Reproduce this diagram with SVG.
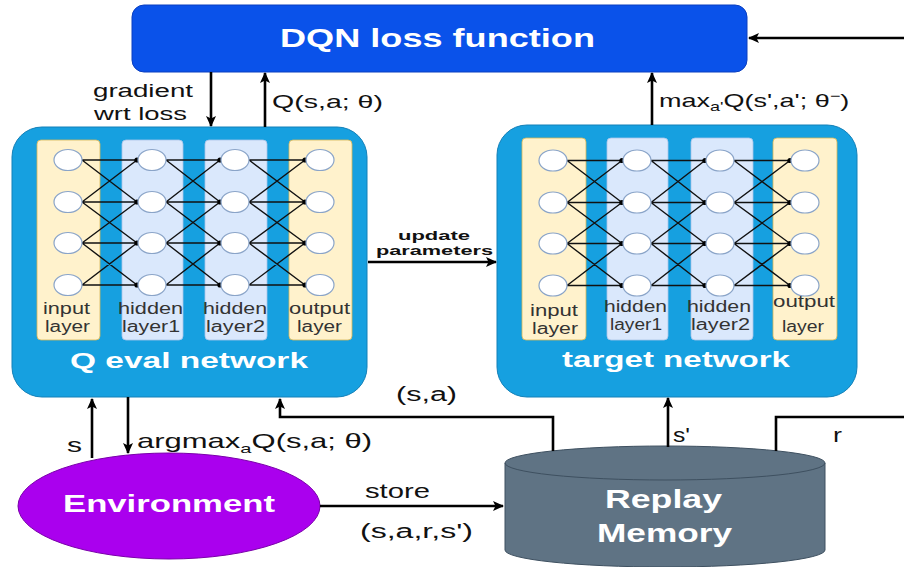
<svg xmlns="http://www.w3.org/2000/svg" xmlns:xlink="http://www.w3.org/1999/xlink" width="904" height="567" viewBox="0 0 904 567">
<style>
text{font-family:"Liberation Sans",Arial,Helvetica,sans-serif}
.lbl{font-size:20px;fill:#111}
.sm{font-size:18px;fill:#111}
.lay{font-size:16px;fill:#333}
.wb{font-weight:bold;fill:#fff}
.conn{fill:none;stroke:#000;stroke-width:2.6}
.colY{fill:#fff2cc;stroke:#d6b656;stroke-width:0.8}
.colB{fill:#dae8fc;stroke:#a9c4e8;stroke-width:0.8}
.nd{fill:#fff;stroke:#8aa4c8;stroke-width:1.2}
.mesh{fill:none;stroke:#111;stroke-width:1.4}
</style>
<defs>
<marker id="arr" markerUnits="userSpaceOnUse" markerWidth="14" markerHeight="12" refX="10" refY="5" orient="auto">
<path d="M0,0 L11,5 L0,10 L2.5,5 Z" fill="#000"/>
</marker>
<g id="net">
<path class="mesh" d="M82,160L137,160M82,160L137,202M82,202L137,160M82,202L137,202M82,202L137,243M82,243L137,202M82,243L137,243M82,243L137,285M82,285L137,243M82,285L137,285
M166,160L220,160M166,160L220,202M166,202L220,160M166,202L220,202M166,202L220,243M166,243L220,202M166,243L220,243M166,243L220,285M166,285L220,243M166,285L220,285
M249,160L305,160M249,160L305,202M249,202L305,160M249,202L305,202M249,202L305,243M249,243L305,202M249,243L305,243M249,243L305,285M249,285L305,243M249,285L305,285"/>
<g fill="#000">
<circle cx="137" cy="160" r="2.6"/><circle cx="137" cy="202" r="2.6"/><circle cx="137" cy="243" r="2.6"/><circle cx="137" cy="285" r="2.6"/>
<circle cx="220" cy="160" r="2.6"/><circle cx="220" cy="202" r="2.6"/><circle cx="220" cy="243" r="2.6"/><circle cx="220" cy="285" r="2.6"/>
<circle cx="305" cy="160" r="2.6"/><circle cx="305" cy="202" r="2.6"/><circle cx="305" cy="243" r="2.6"/><circle cx="305" cy="285" r="2.6"/>
</g>
<g class="nd">
<ellipse cx="68" cy="160" rx="14" ry="10.5"/><ellipse cx="68" cy="202" rx="14" ry="10.5"/><ellipse cx="68" cy="243" rx="14" ry="10.5"/><ellipse cx="68" cy="285" rx="14" ry="10.5"/>
<ellipse cx="152" cy="160" rx="14" ry="10.5"/><ellipse cx="152" cy="202" rx="14" ry="10.5"/><ellipse cx="152" cy="243" rx="14" ry="10.5"/><ellipse cx="152" cy="285" rx="14" ry="10.5"/>
<ellipse cx="235" cy="160" rx="14" ry="10.5"/><ellipse cx="235" cy="202" rx="14" ry="10.5"/><ellipse cx="235" cy="243" rx="14" ry="10.5"/><ellipse cx="235" cy="285" rx="14" ry="10.5"/>
<ellipse cx="320" cy="160" rx="14" ry="10.5"/><ellipse cx="320" cy="202" rx="14" ry="10.5"/><ellipse cx="320" cy="243" rx="14" ry="10.5"/><ellipse cx="320" cy="285" rx="14" ry="10.5"/>
</g>
</g>
</defs>
<rect width="904" height="567" fill="#fff"/>

<g id="dqn-loss">
<rect x="132" y="5" width="615" height="67" rx="12" fill="#0a52ea" stroke="#0a3fc0" stroke-width="1"/>
<text x="280" y="47" class="wb" font-size="26" textLength="315" lengthAdjust="spacingAndGlyphs">DQN loss function</text>
</g>

<g id="q-eval-network">
<rect x="12" y="127" width="355" height="270" rx="30" fill="#16a0e0" stroke="#1380b8" stroke-width="1"/>
<rect class="colY" x="37" y="140" width="63" height="200" rx="4"/>
<rect class="colB" x="122" y="140" width="61" height="200" rx="4"/>
<rect class="colB" x="205" y="140" width="62" height="200" rx="4"/>
<rect class="colY" x="289" y="140" width="63" height="200" rx="4"/>
<use xlink:href="#net"/>
<text class="lay" x="43" y="314" textLength="47" lengthAdjust="spacingAndGlyphs">input</text>
<text class="lay" x="45" y="332" textLength="45" lengthAdjust="spacingAndGlyphs">layer</text>
<text class="lay" x="118" y="314" textLength="65" lengthAdjust="spacingAndGlyphs">hidden</text>
<text class="lay" x="122" y="332" textLength="58" lengthAdjust="spacingAndGlyphs">layer1</text>
<text class="lay" x="203" y="314" textLength="64" lengthAdjust="spacingAndGlyphs">hidden</text>
<text class="lay" x="206" y="332" textLength="59" lengthAdjust="spacingAndGlyphs">layer2</text>
<text class="lay" x="289" y="314" textLength="61" lengthAdjust="spacingAndGlyphs">output</text>
<text class="lay" x="297" y="332" textLength="45" lengthAdjust="spacingAndGlyphs">layer</text>
<text x="70" y="368" class="wb" font-size="22" textLength="238" lengthAdjust="spacingAndGlyphs">Q eval network</text>
</g>

<g id="target-network">
<rect x="497" y="125" width="360" height="272" rx="30" fill="#16a0e0" stroke="#1380b8" stroke-width="1"/>
<rect class="colY" x="522" y="138" width="64" height="202" rx="4"/>
<rect class="colB" x="607" y="138" width="61" height="202" rx="4"/>
<rect class="colB" x="691" y="138" width="62" height="202" rx="4"/>
<rect class="colY" x="773" y="138" width="64" height="202" rx="4"/>
<use xlink:href="#net" transform="translate(485,0.5)"/>
<text class="lay" x="530" y="316" textLength="48" lengthAdjust="spacingAndGlyphs">input</text>
<text class="lay" x="532" y="334" textLength="46" lengthAdjust="spacingAndGlyphs">layer</text>
<text class="lay" x="604" y="312" textLength="63" lengthAdjust="spacingAndGlyphs">hidden</text>
<text class="lay" x="610" y="330" textLength="52" lengthAdjust="spacingAndGlyphs">layer1</text>
<text class="lay" x="687" y="312" textLength="64" lengthAdjust="spacingAndGlyphs">hidden</text>
<text class="lay" x="691" y="330" textLength="59" lengthAdjust="spacingAndGlyphs">layer2</text>
<text class="lay" x="773" y="307" textLength="62" lengthAdjust="spacingAndGlyphs">output</text>
<text class="lay" x="782" y="332" textLength="42" lengthAdjust="spacingAndGlyphs">layer</text>
<text x="562" y="367" class="wb" font-size="22" textLength="228" lengthAdjust="spacingAndGlyphs">target network</text>
</g>

<g id="environment">
<ellipse cx="169" cy="506" rx="151" ry="53" fill="#aa00ee" stroke="#7a00aa" stroke-width="1"/>
<text x="63" y="512" class="wb" font-size="24" textLength="212" lengthAdjust="spacingAndGlyphs">Environment</text>
</g>

<g id="replay-memory">
<path d="M505,463 A160,17 0 0 1 825,463 L825,550 A160,17 0 0 1 505,550 Z" fill="#5f7384" stroke="#3e5060" stroke-width="1"/>
<path d="M505,463 A160,17 0 0 0 825,463" fill="none" stroke="#3e5060" stroke-width="1"/>
<text x="605" y="508" class="wb" font-size="26" textLength="117" lengthAdjust="spacingAndGlyphs">Replay</text>
<text x="597" y="542" class="wb" font-size="26" textLength="135" lengthAdjust="spacingAndGlyphs">Memory</text>
</g>

<g id="connectors">
<path class="conn" d="M904,38 L749,38" marker-end="url(#arr)"/>
<path class="conn" d="M211,72 L211,126" marker-end="url(#arr)"/>
<path class="conn" d="M265,127 L265,73" marker-end="url(#arr)"/>
<path class="conn" d="M652,125 L652,73" marker-end="url(#arr)"/>
<path class="conn" d="M368,262 L496,262" marker-end="url(#arr)"/>
<path class="conn" d="M92,458 L92,399" marker-end="url(#arr)"/>
<path class="conn" d="M128,397 L128,453" marker-end="url(#arr)"/>
<path class="conn" d="M553,451 L553,417 L280,417 L280,399" marker-end="url(#arr)"/>
<path class="conn" d="M668,447 L668,398" marker-end="url(#arr)"/>
<path class="conn" d="M776,451 L776,417 L904,417"/>
<path class="conn" d="M320,506 L503,506" marker-end="url(#arr)"/>

<text class="sm" x="93" y="97" textLength="100" lengthAdjust="spacingAndGlyphs">gradient</text>
<text class="sm" x="94" y="120" textLength="93" lengthAdjust="spacingAndGlyphs">wrt loss</text>
<text class="sm" x="272" y="108" textLength="111" lengthAdjust="spacingAndGlyphs">Q(s,a; θ)</text>
<g transform="translate(659,107) scale(1.5,1)">
<text class="sm" x="0" y="0">max<tspan font-size="12" dy="4">a'</tspan><tspan dy="-4">Q(s',a'; θ</tspan><tspan font-size="12" dy="-7">−</tspan><tspan dy="7">)</tspan></text>
</g>
<text x="398" y="240" font-size="13" font-weight="bold" fill="#111" textLength="72" lengthAdjust="spacingAndGlyphs">update</text>
<text x="376" y="255" font-size="13" font-weight="bold" fill="#111" textLength="117" lengthAdjust="spacingAndGlyphs">parameters</text>
<text class="lbl" x="396" y="401" textLength="61" lengthAdjust="spacingAndGlyphs">(s,a)</text>
<text class="lbl" x="67" y="452" textLength="15" lengthAdjust="spacingAndGlyphs">s</text>
<g transform="translate(137,448) scale(1.55,1)">
<text class="lbl" x="0" y="0">argmax<tspan font-size="13" dy="5">a</tspan><tspan dy="-5">Q(s,a; θ)</tspan></text>
</g>
<text class="lbl" x="365" y="498" textLength="65" lengthAdjust="spacingAndGlyphs">store</text>
<text class="lbl" x="360" y="538" textLength="113" lengthAdjust="spacingAndGlyphs">(s,a,r,s')</text>
<text class="lbl" x="673" y="442" textLength="17" lengthAdjust="spacingAndGlyphs">s'</text>
<text class="lbl" x="833" y="442" textLength="9" lengthAdjust="spacingAndGlyphs">r</text>
</g>
</svg>
